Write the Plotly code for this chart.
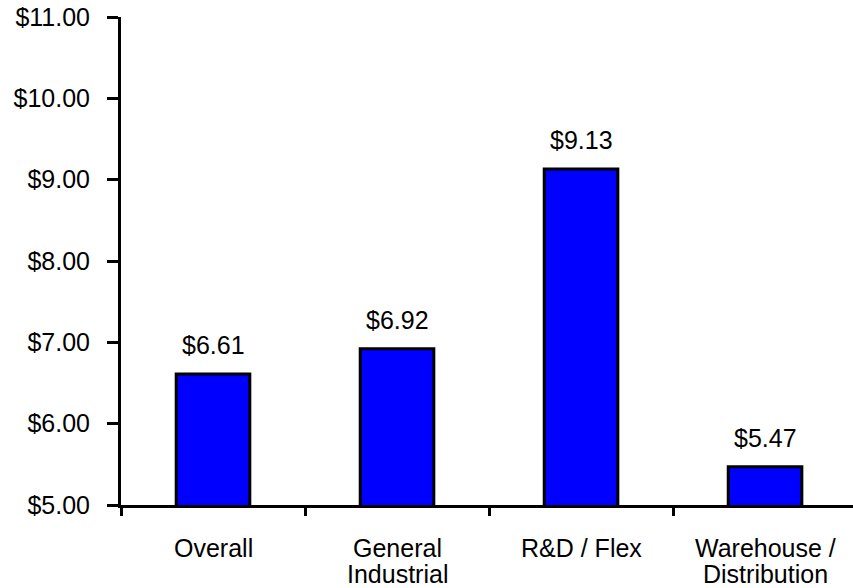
import plotly.graph_objects as go

categories = ["Overall", "General<br>Industrial", "R&D / Flex", "Warehouse /<br>Distribution"]
values = [6.61, 6.92, 9.13, 5.47]
value_labels = ["$6.61", "$6.92", "$9.13", "$5.47"]
y_ticks = [5, 6, 7, 8, 9, 10, 11]
y_tick_labels = ["$5.00", "$6.00", "$7.00", "$8.00", "$9.00", "$10.00", "$11.00"]

FONT = "Arial, Liberation Sans, sans-serif"
FS = 25

fig = go.Figure()
fig.add_trace(go.Bar(
    x=categories, y=values, width=0.4,
    marker=dict(color="#0000FF", line=dict(color="black", width=3)),
    hoverinfo="skip",
))
for c, v, t in zip(categories, values, value_labels):
    fig.add_annotation(x=c, y=v, text=t, showarrow=False, yanchor="bottom",
                       yshift=13, font=dict(family=FONT, size=FS, color="black"))

# category labels, one annotation per line for tighter line spacing
for c in categories:
    for i, line in enumerate(c.split("<br>")):
        fig.add_annotation(x=c, y=0, yref="paper", text=line, showarrow=False,
                           yanchor="middle", yshift=-43 - 26 * i,
                           font=dict(family=FONT, size=FS, color="black"))

fig.update_layout(
    width=853, height=588,
    margin=dict(l=121, r=0, t=17, b=83, autoexpand=False),
    plot_bgcolor="white", paper_bgcolor="white",
    showlegend=False,
    font=dict(family=FONT, size=FS, color="black"),
)
fig.update_xaxes(
    type="category", range=[-0.5, 3.478], automargin=False,
    showline=True, linecolor="black", linewidth=3,
    ticks="outside", tickson="boundaries", ticklen=8, tickwidth=3, tickcolor="black",
    showticklabels=False, showgrid=False,
)
fig.update_yaxes(
    range=[5, 11], tickvals=y_ticks, ticktext=y_tick_labels, automargin=False,
    showline=True, linecolor="black", linewidth=3,
    ticks="outside", ticklen=11, tickwidth=3, tickcolor="black",
    ticklabelstandoff=12, ticklabeloverflow="allow",
    showgrid=False, zeroline=False, tickfont=dict(family=FONT, size=FS, color="black"),
)

fig.write_html("out.html", config={"displayModeBar": False},
               post_script="document.body.style.margin='0';")
